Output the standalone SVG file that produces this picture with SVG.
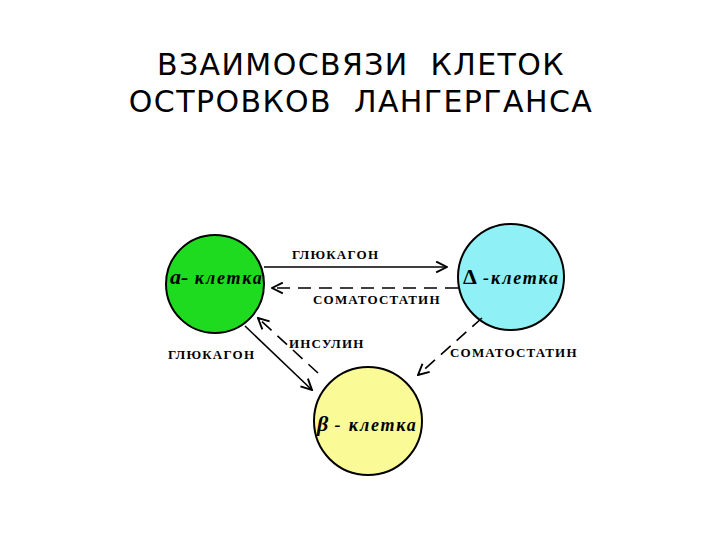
<svg xmlns="http://www.w3.org/2000/svg" width="720" height="540" viewBox="0 0 720 540">
<defs>
<style>
.title{font-family:"DejaVu Sans",sans-serif;font-size:30px;letter-spacing:1.4px;fill:#000;text-anchor:middle}
.lbl{font-family:"Liberation Serif",serif;font-weight:bold;font-size:13px;letter-spacing:1.2px;fill:#000}
.cell{font-family:"Liberation Serif",serif;font-weight:bold;font-style:italic;font-size:18px;letter-spacing:1.8px;fill:#000}
.big{font-size:22px;letter-spacing:0}
.circ{stroke:#000;stroke-width:2}
.ln{stroke:#000;stroke-width:1.6;fill:none}
.dash{stroke-dasharray:13 8}
</style>
<marker id="ah" viewBox="0 0 12 12" refX="11" refY="6" markerWidth="13" markerHeight="13" markerUnits="userSpaceOnUse" orient="auto">
<path d="M1 1 L11 6 L1 11" fill="none" stroke="#000" stroke-width="1.8"/>
</marker>
</defs>
<rect width="720" height="540" fill="#fff"/>
<g id="title">
<text class="title" x="361" y="75" xml:space="preserve">ВЗАИМОСВЯЗИ  КЛЕТОК</text>
<text class="title" x="361" y="112" xml:space="preserve">ОСТРОВКОВ  ЛАНГЕРГАНСА</text>
</g>
<g id="alpha">
<circle class="circ" cx="215" cy="284" r="49" fill="#1fdb1f"/>
<text class="cell" x="170" y="284"><tspan class="big">а-</tspan> клетка</text>
</g>
<g id="delta">
<circle class="circ" cx="511" cy="277" r="53" fill="#8ff0f5"/>
<text class="cell" x="463" y="284"><tspan class="big" font-style="normal">Δ</tspan> -клетка</text>
</g>
<g id="beta">
<circle class="circ" cx="368" cy="421" r="54" fill="#fafa96"/>
<text class="cell" x="317" y="431"><tspan class="big">β</tspan> - клетка</text>
</g>
<g id="connectors">
<line class="ln" x1="264" y1="267" x2="447" y2="267" marker-end="url(#ah)"/>
<line class="ln dash" x1="458" y1="288" x2="272" y2="288" marker-end="url(#ah)"/>
<line class="ln" x1="245" y1="326" x2="312" y2="390" marker-end="url(#ah)"/>
<line class="ln dash" x1="318" y1="373" x2="258" y2="318" marker-end="url(#ah)"/>
<line class="ln dash" x1="482" y1="318" x2="418" y2="375" marker-end="url(#ah)"/>
</g>
<g id="labels">
<text class="lbl" x="292" y="259">ГЛЮКАГОН</text>
<text class="lbl" x="313" y="304">СОМАТОСТАТИН</text>
<text class="lbl" x="289" y="348">ИНСУЛИН</text>
<text class="lbl" x="168" y="359">ГЛЮКАГОН</text>
<text class="lbl" x="450" y="357">СОМАТОСТАТИН</text>
</g>
</svg>
